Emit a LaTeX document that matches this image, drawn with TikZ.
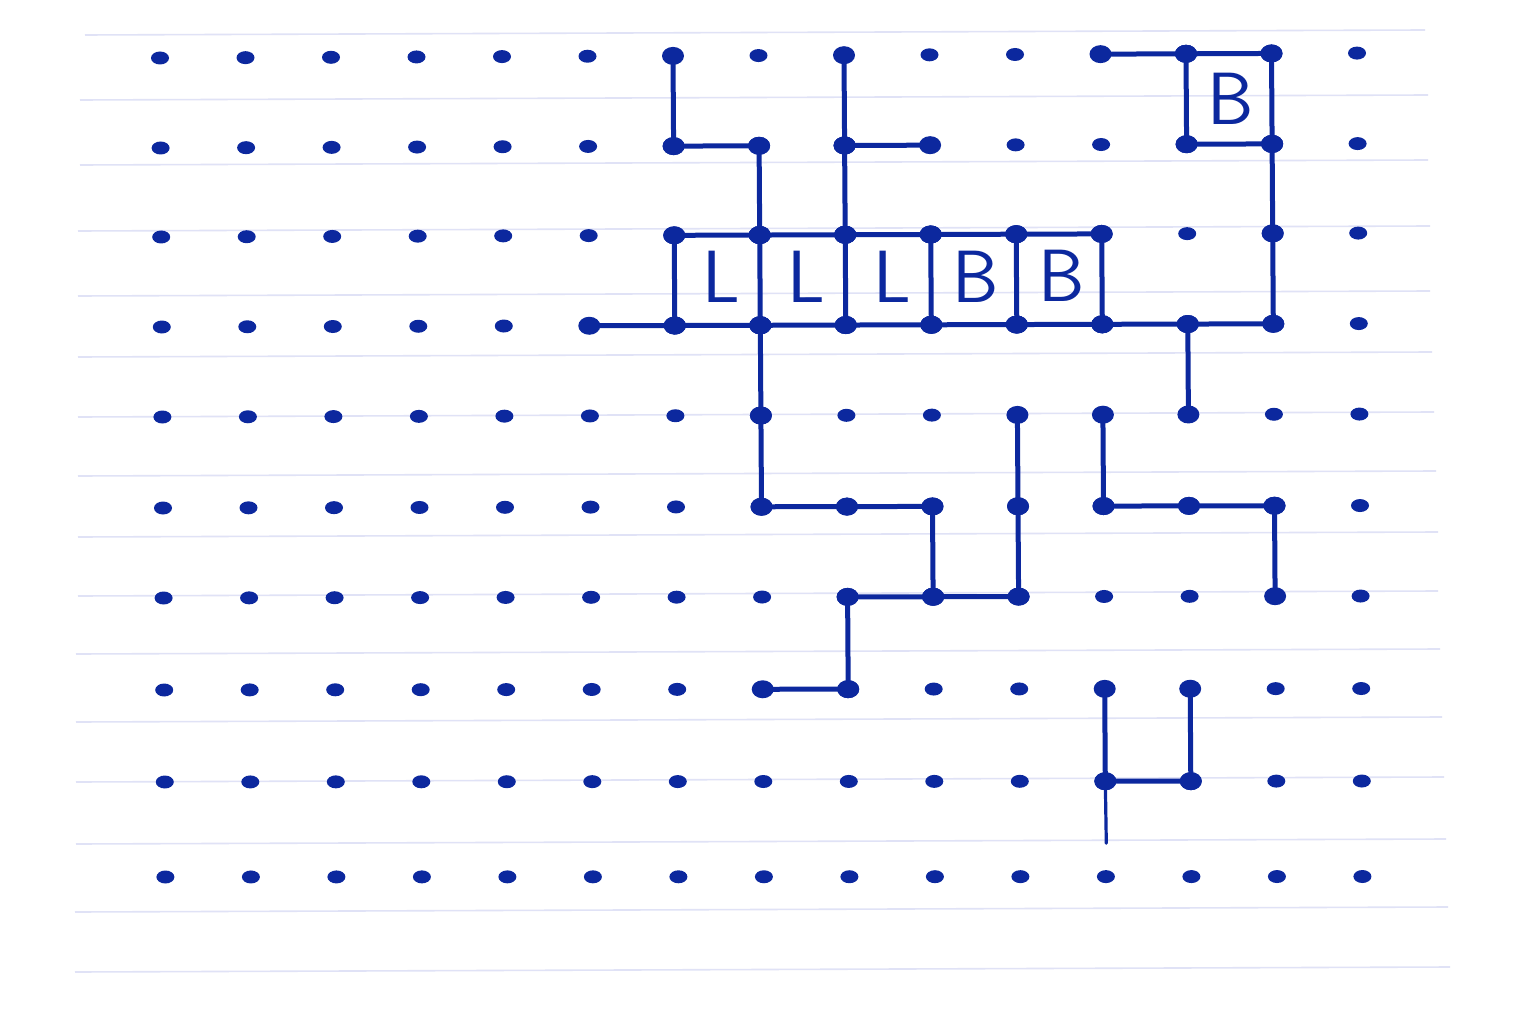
\documentclass[tikz,border=0pt]{standalone}
\usepackage{tikz}
\usetikzlibrary{shapes.geometric,calc}
\definecolor{ink}{RGB}{12,40,158}
\definecolor{paperline}{RGB}{224,226,246}
\tikzset{
  gdot/.style={ellipse,fill=ink,draw=none,minimum width=18pt,minimum height=13pt,inner sep=0pt},
  penline/.style={draw=ink,line width=5pt,line cap=round,line join=round},
  letter/.style={text=ink,font=\sffamily\fontsize{74}{74}\selectfont,inner sep=0pt},
  ruled/.style={draw=paperline,line width=1.6pt}
}
\begin{document}
\begin{tikzpicture}[x=1pt,y=-1pt]
\useasboundingbox (0,0) rectangle (1536,1024);
\fill[white] (0,0) rectangle (1536,1024);
% ruled paper lines
\foreach \yy/\xl/\xr in {33/85/1425, 98/80/1428, 163/80/1428, 229/78/1430, 294/78/1430, 355/78/1432, 415/78/1434, 474/78/1436, 535/78/1438, 594/78/1438, 652/76/1440, 720/76/1442, 780/76/1444, 842/76/1446, 910/75/1448, 970/75/1450}
  \draw[ruled] (\xl,\yy+2) -- (\xr,\yy-3);
% dot grid
\foreach \r/\yr in {0/58,1/148,2/237,3/327,4/417,5/508,6/598,7/690,8/782,9/877}{
  \foreach \c in {0,...,14}{
    \node[gdot] (d\c-\r) at ({160+85.5*\c+0.6*\r},{\yr-(0.35-0.035*\r)*\c}) {};
  }
}
\coordinate (free) at ($(d11-8)+(1,62)$);
% edges
\foreach \a/\b/\c/\d in {
  6/0/6/1, 6/1/7/1, 7/1/7/2, 8/0/8/1, 8/1/8/2, 8/1/9/1,
  11/0/12/0, 12/0/13/0, 12/0/12/1, 13/0/13/1, 12/1/13/1, 13/1/13/2, 13/2/13/3,
  6/2/7/2, 7/2/8/2, 8/2/9/2, 9/2/10/2, 10/2/11/2,
  5/3/6/3, 6/3/7/3, 7/3/8/3, 8/3/9/3, 9/3/10/3, 10/3/11/3, 11/3/12/3, 12/3/13/3,
  6/2/6/3, 7/2/7/3, 8/2/8/3, 9/2/9/3, 10/2/10/3, 11/2/11/3,
  7/3/7/4, 7/4/7/5, 12/3/12/4, 7/5/8/5, 8/5/9/5, 9/5/9/6,
  10/4/10/5, 10/5/10/6, 9/6/10/6, 8/6/9/6, 8/6/8/7, 7/7/8/7,
  11/4/11/5, 11/5/12/5, 12/5/13/5, 13/5/13/6,
  11/7/11/8, 12/7/12/8, 11/8/12/8}{
  \draw[penline] (d\a-\b.center) -- (d\c-\d.center);
  \fill[ink] (d\a-\b.center) ellipse (11pt and 9pt);
  \fill[ink] (d\c-\d.center) ellipse (11pt and 9pt);
}
\draw[draw=ink,line width=3.2pt,line cap=round] (d11-8.center) -- (free);
% letters
\node[letter] (l1) at ($(d6-2)!0.5!(d7-3)+(4,-3)$) {L};
\node[letter] (l2) at ($(d7-2)!0.5!(d8-3)+(4,-3)$) {L};
\node[letter] (l3) at ($(d8-2)!0.5!(d9-3)+(4,-3)$) {L};
\node[letter] (b1) at ($(d9-2)!0.5!(d10-3)+(2,-3)$) {B};
\node[letter] (b2) at ($(d10-2)!0.5!(d11-3)+(2,-3)$) {B};
\node[letter] (b3) at ($(d12-0)!0.5!(d13-1)+(2,0)$) {B};
\end{tikzpicture}
\end{document}
